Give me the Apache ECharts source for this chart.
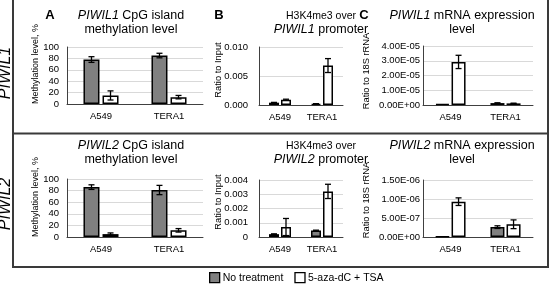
<!DOCTYPE html>
<html>
<head>
<meta charset="utf-8">
<script src="https://cdn.jsdelivr.net/npm/echarts@6/dist/echarts.min.js"></script>
<style>
  html, body { margin: 0; padding: 0; background: #fff; }
  #chart { width: 550px; height: 286px; }
</style>
</head>
<body>
<div id="chart"></div>
<script>
  var cells = ['A549', 'TERA1'];
  var groupNames = ['No treatment', '5-aza-dC + TSA'];

  // PIWIL1 row
  var p1Methyl = [78, 85],          p1MethylErr = [5, 4];
  var p1MethylAza = [15, 12],       p1MethylAzaErr = [8, 3];
  var p1H3k4 = [0.0004, 0.0002],    p1H3k4Err = [0.00005, 0.00003];
  var p1H3k4Aza = [0.0009, 0.0068], p1H3k4AzaErr = [0.0001, 0.0012];
  var p1Mrna = [7e-7, 1.3e-6],      p1MrnaErr = [0, 2e-7];
  var p1MrnaAza = [2.92e-5, 1.1e-6], p1MrnaAzaErr = [4.5e-6, 1e-7];

  // PIWIL2 row
  var p2Methyl = [86, 81],          p2MethylErr = [4, 8];
  var p2MethylAza = [5, 11.5],      p2MethylAzaErr = [2, 3];
  var p2H3k4 = [0.0002, 0.00045],   p2H3k4Err = [0.00002, 0.00003];
  var p2H3k4Aza = [0.0007, 0.0032], p2H3k4AzaErr = [0.0006, 0.0005];
  var p2Mrna = [1e-8, 2.6e-7],      p2MrnaErr = [0, 3.5e-8];
  var p2MrnaAza = [9.3e-7, 3.35e-7], p2MrnaAzaErr = [1e-7, 1.15e-7];

  var fontFam = '"Liberation Sans", Arial, sans-serif';

  function intFmt(v) { return String(v); }
  function fix3(v) { return v.toFixed(3); }
  function fix3zero(v) { return v === 0 ? '0' : v.toFixed(3); }
  function expFmt(v) {
    var s = v.toExponential(2).toUpperCase();
    return s.replace(/E([+-])(\d)$/, function (m, sg, d) { return 'E' + sg + '0' + d; });
  }

  // layout for the 6 little charts
  var panels = [
    { left: 67,  top: 47,  width: 136, height: 57, max: 100,   interval: 20,    fmt: intFmt,   margin: 8,  barW: 16, gap: '19%',
      vals: [p1Methyl, p1MethylAza], errs: [p1MethylErr, p1MethylAzaErr] },
    { left: 259, top: 47,  width: 84,  height: 58, max: 0.01,  interval: 0.005, fmt: fix3,     margin: 11, barW: 10, gap: '20%',
      vals: [p1H3k4, p1H3k4Aza], errs: [p1H3k4Err, p1H3k4AzaErr] },
    { left: 423, top: 46,  width: 110, height: 59, max: 4e-5,  interval: 1e-5,  fmt: expFmt,   margin: 3,  barW: 14, gap: '15%',
      vals: [p1Mrna, p1MrnaAza], errs: [p1MrnaErr, p1MrnaAzaErr] },
    { left: 67,  top: 179, width: 136, height: 58, max: 100,   interval: 20,    fmt: intFmt,   margin: 8,  barW: 16, gap: '19%',
      vals: [p2Methyl, p2MethylAza], errs: [p2MethylErr, p2MethylAzaErr] },
    { left: 259, top: 180, width: 84,  height: 57, max: 0.004, interval: 0.001, fmt: fix3zero, margin: 11, barW: 10, gap: '20%',
      vals: [p2H3k4, p2H3k4Aza], errs: [p2H3k4Err, p2H3k4AzaErr] },
    { left: 423, top: 180, width: 110, height: 57, max: 1.5e-6, interval: 5e-7, fmt: expFmt,   margin: 3,  barW: 14, gap: '15%',
      vals: [p2Mrna, p2MrnaAza], errs: [p2MrnaErr, p2MrnaAzaErr] }
  ];

  function errorBars(offset) {
    return function (params, api) {
      var x = api.value(0), v = api.value(1), e = api.value(2);
      if (!e) return null;
      var hi = api.coord([x, v + e]);
      var lo = api.coord([x, Math.max(v - e, 0)]);
      var cx = hi[0] + offset;
      var st = { stroke: '#000', lineWidth: 1.3 };
      return {
        type: 'group',
        children: [
          { type: 'line', shape: { x1: cx, y1: hi[1], x2: cx, y2: lo[1] }, style: st },
          { type: 'line', shape: { x1: cx - 3, y1: hi[1], x2: cx + 3, y2: hi[1] }, style: st },
          { type: 'line', shape: { x1: cx - 3, y1: lo[1], x2: cx + 3, y2: lo[1] }, style: st }
        ]
      };
    };
  }

  var grids = [], xAxes = [], yAxes = [], series = [];
  var fills = ['#808080', '#ffffff'];

  panels.forEach(function (p, gi) {
    grids.push({ left: p.left, top: p.top, width: p.width, height: p.height });
    xAxes.push({
      type: 'category', gridIndex: gi, data: cells,
      axisTick: { show: false },
      axisLine: { lineStyle: { color: '#404040', width: 1 } },
      axisLabel: { color: '#000', fontSize: 9.5, fontFamily: fontFam, margin: 7 }
    });
    yAxes.push({
      type: 'value', gridIndex: gi, min: 0, max: p.max, interval: p.interval,
      axisLine: { show: true, lineStyle: { color: '#404040', width: 1 } },
      axisTick: { show: false },
      splitLine: { lineStyle: { color: '#d9d9d9', width: 1 } },
      axisLabel: { color: '#000', fontSize: 9.5, fontFamily: fontFam, margin: p.margin, formatter: p.fmt }
    });
    var off = (p.barW * (1 + parseFloat(p.gap) / 100)) / 2;
    [0, 1].forEach(function (k) {
      series.push({
        name: groupNames[k], type: 'bar', xAxisIndex: gi, yAxisIndex: gi,
        barWidth: p.barW, barGap: p.gap,
        itemStyle: { color: fills[k], borderColor: '#000', borderWidth: 1.5 },
        data: p.vals[k]
      });
    });
    [0, 1].forEach(function (k) {
      series.push({
        type: 'custom', xAxisIndex: gi, yAxisIndex: gi, z: 5,
        renderItem: errorBars(k === 0 ? -off : off),
        data: cells.map(function (c, i) { return [i, p.vals[k][i], p.errs[k][i]]; })
      });
    });
  });

  var titleStyle = {
    color: '#000', fontSize: 12.5, fontWeight: 'normal', fontFamily: fontFam, lineHeight: 14,
    rich: {
      i: { fontStyle: 'italic', fontSize: 12.5, fontFamily: fontFam, lineHeight: 14 },
      n: { fontSize: 12.5, fontFamily: fontFam, lineHeight: 14 },
      s: { fontSize: 10.5, fontFamily: fontFam, lineHeight: 14 }
    }
  };
  function mkTitle(text, x, y) {
    return { text: text, left: x, top: y, textAlign: 'center', padding: 0, textStyle: titleStyle };
  }
  function letter(t, x) {
    return { text: t, left: x, top: 9, padding: 0, textAlign: 'center',
      textStyle: { color: '#000', fontSize: 13, fontWeight: 'bold', fontFamily: fontFam } };
  }

  var titles = [
    mkTitle('{i|PIWIL1}{n| CpG island}\nmethylation level', 131, 9),
    mkTitle('{s|H3K4me3 over}\n{i|PIWIL1}{n| promoter}', 321, 9),
    mkTitle('{i|PIWIL1}{n| mRNA expression}\nlevel', 462, 9),
    mkTitle('{i|PIWIL2}{n| CpG island}\nmethylation level', 131, 139),
    mkTitle('{s|H3K4me3 over}\n{i|PIWIL2}{n| promoter}', 321, 139),
    mkTitle('{i|PIWIL2}{n| mRNA expression}\nlevel', 462, 139),
    letter('A', 50), letter('B', 219), letter('C', 364)
  ];

  function vText(t, x, y, size, italic) {
    return {
      type: 'text', x: x, y: y, rotation: Math.PI / 2,
      style: {
        text: t, x: 0, y: 0, align: 'center', verticalAlign: 'middle',
        fill: '#000', fontSize: size, fontFamily: fontFam, fontStyle: italic ? 'italic' : 'normal'
      }
    };
  }
  function frameLine(x1, y1, x2, y2) {
    return { type: 'line', shape: { x1: x1, y1: y1, x2: x2, y2: y2 }, style: { stroke: '#3a3a3a', lineWidth: 2 } };
  }

  var graphics = [
    frameLine(13, 0, 13, 267), frameLine(548, 0, 548, 267),
    frameLine(13, 133.5, 548, 133.5), frameLine(12, 267, 549, 267),
    vText('PIWIL1', 6, 73, 16, true),
    vText('PIWIL2', 6, 204, 16, true),
    vText('Methylation level, %', 36, 64, 9, false),
    vText('Ratio to Input', 218, 70, 9.3, false),
    vText('Ratio to 18S rRNA', 366, 71, 9.3, false),
    vText('Methylation level, %', 36, 197, 9, false),
    vText('Ratio to Input', 218, 202, 9.3, false),
    vText('Ratio to 18S rRNA', 366, 200, 9.3, false)
  ];

  var chart = echarts.init(document.getElementById('chart'));
  chart.setOption({
    animation: false,
    title: titles,
    legend: {
      data: groupNames, left: 209, top: 272, padding: 0,
      icon: 'rect', itemWidth: 10, itemHeight: 10, itemGap: 11,
      itemStyle: { borderColor: '#000', borderWidth: 1.3 },
      textStyle: { color: '#000', fontSize: 10.5, fontFamily: fontFam, padding: [0, 0, 0, -2] }
    },
    grid: grids,
    xAxis: xAxes,
    yAxis: yAxes,
    series: series,
    graphic: graphics
  });
</script>
</body>
</html>
